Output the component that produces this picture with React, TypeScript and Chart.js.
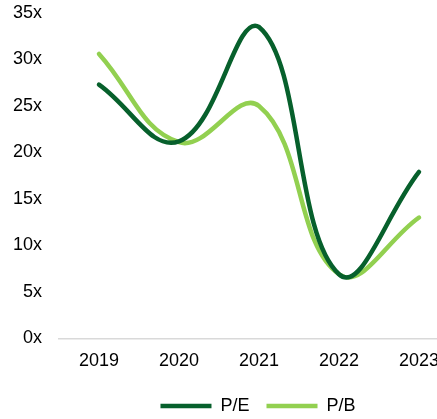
import React, { useEffect, useRef } from "react";
import { Chart, registerables } from "chart.js";

Chart.register(...registerables);

const years = ["2019", "2020", "2021", "2022", "2023"];
const peValues = [27.3, 21.2, 33.5, 6.9, 17.9];
const pbValues = [30.6, 21.1, 25.0, 6.9, 13.0];
const seriesNames = ["P/E", "P/B"];

const DARK = "#07602c";
const LIGHT = "#92d050";
const FONT = "'Liberation Sans', Arial, sans-serif";

const legendShift = {
  id: "legendShift",
  afterLayout(chart: any) {
    const l = chart.legend;
    if (l) {
      l.left += 22;
      l.right += 22;
      l.top += 6;
      l.bottom += 6;
    }
  },
};

export default function App() {
  const ref = useRef<HTMLCanvasElement | null>(null);

  useEffect(() => {
    document.body.style.margin = "0";
    document.body.style.overflow = "hidden";
    const ctx = ref.current;
    if (!ctx) return;
    const chart = new Chart(ctx, {
      type: "line",
      data: {
        labels: years,
        datasets: [
          {
            label: seriesNames[0],
            data: peValues,
            borderColor: DARK,
            backgroundColor: DARK,
            borderWidth: 4.5,
            borderCapStyle: "round",
            pointRadius: 0,
            tension: 0.42,
          },
          {
            label: seriesNames[1],
            data: pbValues,
            borderColor: LIGHT,
            backgroundColor: LIGHT,
            borderWidth: 4.5,
            borderCapStyle: "round",
            pointRadius: 0,
            tension: 0.42,
          },
        ],
      },
      options: {
        animation: false,
        responsive: false,
        maintainAspectRatio: false,
        layout: { padding: { left: 13, top: 13, right: 55, bottom: 0 } },
        font: { family: FONT, size: 18 },
        plugins: {
          tooltip: { enabled: false },
          legend: {
            position: "bottom",
            labels: {
              usePointStyle: true,
              pointStyle: "line",
              pointStyleWidth: 51,
              color: "#000",
              padding: 17,
              font: { family: FONT, size: 18 },
            },
          },
        },
        scales: {
          x: {
            offset: true,
            grid: { display: false, drawTicks: false },
            border: { display: true, color: "#d9d9d9", width: 1.5 },
            ticks: {
              color: "#000",
              padding: 12,
              maxRotation: 0,
              font: { family: FONT, size: 18 },
            },
            afterFit: (s: any) => {
              s.height = s.height - 10;
            },
          },
          y: {
            min: 0,
            max: 35,
            grid: { display: false, drawTicks: false },
            border: { display: false },
            ticks: {
              stepSize: 5,
              padding: 17,
              color: "#000",
              callback: (v: any) => v + "x",
              font: { family: FONT, size: 18 },
            },
            afterFit: (s: any) => {
              s.width = 46;
              s.paddingTop = 0;
              s.paddingBottom = 0;
            },
          },
        },
      },
      plugins: [legendShift],
    });
    return () => chart.destroy();
  }, []);

  return (
    <div style={{ position: "absolute", left: 0, top: 0, width: 437, height: 419, overflow: "hidden" }}>
      <canvas ref={ref} width={514} height={419} style={{ width: 514, height: 419, display: "block" }} />
    </div>
  );
}
